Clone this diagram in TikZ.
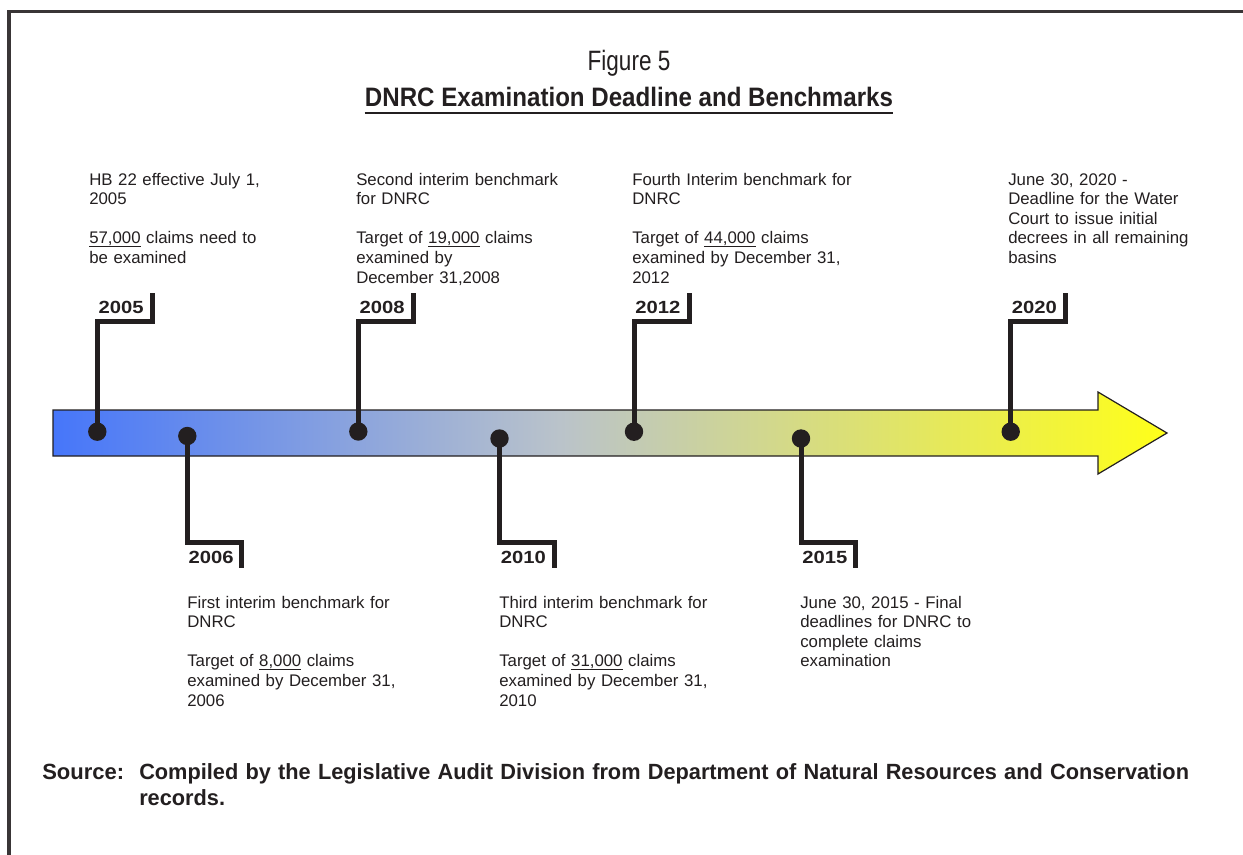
\documentclass[tikz,border=0pt]{standalone}
\usepackage{fontspec}
\setmainfont{Liberation Sans}
\usepackage{graphicx}
\usetikzlibrary{calc}

\definecolor{ink}{HTML}{231F20}
\definecolor{cblue}{RGB}{70,118,250}
\definecolor{cgray}{RGB}{186,195,202}
\definecolor{cyel}{RGB}{255,255,25}
\pgfdeclarehorizontalshading{tlshade}{100bp}{color(0bp)=(cblue); color(25bp)=(cblue); color(47.75bp)=(cgray); color(75bp)=(cyel); color(100bp)=(cyel)}

\newcommand{\numul}[1]{\leavevmode\hbox{\setbox0\hbox{#1}\rlap{\rule[-2.2pt]{\wd0}{0.9pt}}\box0}}
\newsavebox{\srcbox}
\newlength{\srcw}

\tikzset{
  body/.style={anchor=base west, inner sep=0pt, text width=260pt, align=left,
    font=\fontsize{12.6pt}{14.7pt}\selectfont, text=ink},
  yearlbl/.style={anchor=base west, inner sep=0pt,
    font=\bfseries\fontsize{13.2pt}{13.2pt}\selectfont, text=ink},
  tdot/.style={circle, fill=ink, minimum size=13.8pt, inner sep=0pt},
  flagline/.style={draw=ink, line width=3.75pt},
  timeline/.style={draw=ink, line width=0.9pt, shade, shading=tlshade},
  srcfont/.style={font=\bfseries\fontsize{16.5pt}{19.5pt}\selectfont, text=ink}
}

\begin{document}
\sbox{\srcbox}{\bfseries\fontsize{16.5pt}{19.5pt}\selectfont Compiled by the Legislative Audit Division from Department of Natural Resources and Conservation}%
\setlength{\srcw}{\wd\srcbox}%
\pgfmathsetmacro{\srcsx}{776.5/\srcw}%
\begin{tikzpicture}[x=0.75pt,y=-0.75pt]
\clip (0,0) rectangle (1243,854);
\useasboundingbox (0,0) rectangle (1243,854);
\fill[white] (0,0) rectangle (1243,854);

% frame
\draw[ink!90, line width=2.3pt] (9,11.7) rectangle (1300,900);

% title
\node[anchor=base, inner sep=0pt, text=ink, font=\fontsize{21pt}{21pt}\selectfont] (fig) at (629,70)
  {\resizebox{62pt}{\height}{Figure 5}};
\node[anchor=base, inner sep=0pt, text=ink, font=\bfseries\fontsize{20pt}{20pt}\selectfont] (ttl) at (629,106.7)
  {\resizebox{396pt}{\height}{DNRC Examination Deadline and Benchmarks}};
\draw[ink, line width=1.4pt] ($(ttl.base west)+(0,6.5)$) -- ($(ttl.base east)+(0,6.5)$);

% timeline arrow
\draw[timeline] (53,410) -- (1098,410) -- (1098,392) -- (1167,433) -- (1098,474) -- (1098,456) -- (53,456) -- cycle;

% top markers
\foreach \n/\px/\py in {2005/97.3/431.7, 2008/358.3/431.5, 2012/634/431.7, 2020/1010.7/431.7} {
  \node[tdot] (d\n) at (\px,\py) {};
  \coordinate (c\n) at (\px+55,321);
  \coordinate (e\n) at (\px+55,293);
  \draw[flagline] (d\n.center) |- (c\n) -- (e\n);
  \node[yearlbl] (y\n) at (\px+1,313) {\resizebox{33.75pt}{\height}{\n}};
}
% bottom markers
\foreach \n/\px/\py in {2006/187.3/436, 2010/499.5/438.5, 2015/801/438.5} {
  \node[tdot] (d\n) at (\px,\py) {};
  \coordinate (c\n) at (\px+54.5,542);
  \coordinate (e\n) at (\px+54.5,568);
  \draw[flagline] (d\n.center) |- (c\n) -- (e\n);
  \node[yearlbl] (y\n) at (\px+1,563) {\resizebox{33.75pt}{\height}{\n}};
}

% texts above
\node[body] (t2005) at (89,185) {HB 22 effective July 1,\\2005\\[14.7pt]\numul{57,000} claims need to\\be examined};
\node[body] (t2008) at (356,185) {Second interim benchmark\\for DNRC\\[14.7pt]Target of \numul{19,000} claims\\examined by\\December 31,2008};
\node[body] (t2012) at (632,185) {Fourth Interim benchmark for\\DNRC\\[14.7pt]Target of \numul{44,000} claims\\examined by December 31,\\2012};
\node[body] (t2020) at (1008,185) {June 30, 2020 -\\Deadline for the Water\\Court to issue initial\\decrees in all remaining\\basins};

% texts below
\node[body] (t2006) at (187,608) {First interim benchmark for\\DNRC\\[14.7pt]Target of \numul{8,000} claims\\examined by December 31,\\2006};
\node[body] (t2010) at (499,608) {Third interim benchmark for\\DNRC\\[14.7pt]Target of \numul{31,000} claims\\examined by December 31,\\2010};
\node[body] (t2015) at (800,608) {June 30, 2015 - Final\\deadlines for DNRC to\\complete claims\\examination};

% source
\node[srcfont, anchor=base west, inner sep=0pt] (srclbl) at (42,779) {Source:};
\node[srcfont, anchor=base west, inner sep=0pt, text width=800pt, align=left] (srctxt) at (139,779)
  {\scalebox{\srcsx}[1]{Compiled by the Legislative Audit Division from Department of Natural Resources and Conservation}\\\scalebox{\srcsx}[1]{records.}};
\end{tikzpicture}
\end{document}
